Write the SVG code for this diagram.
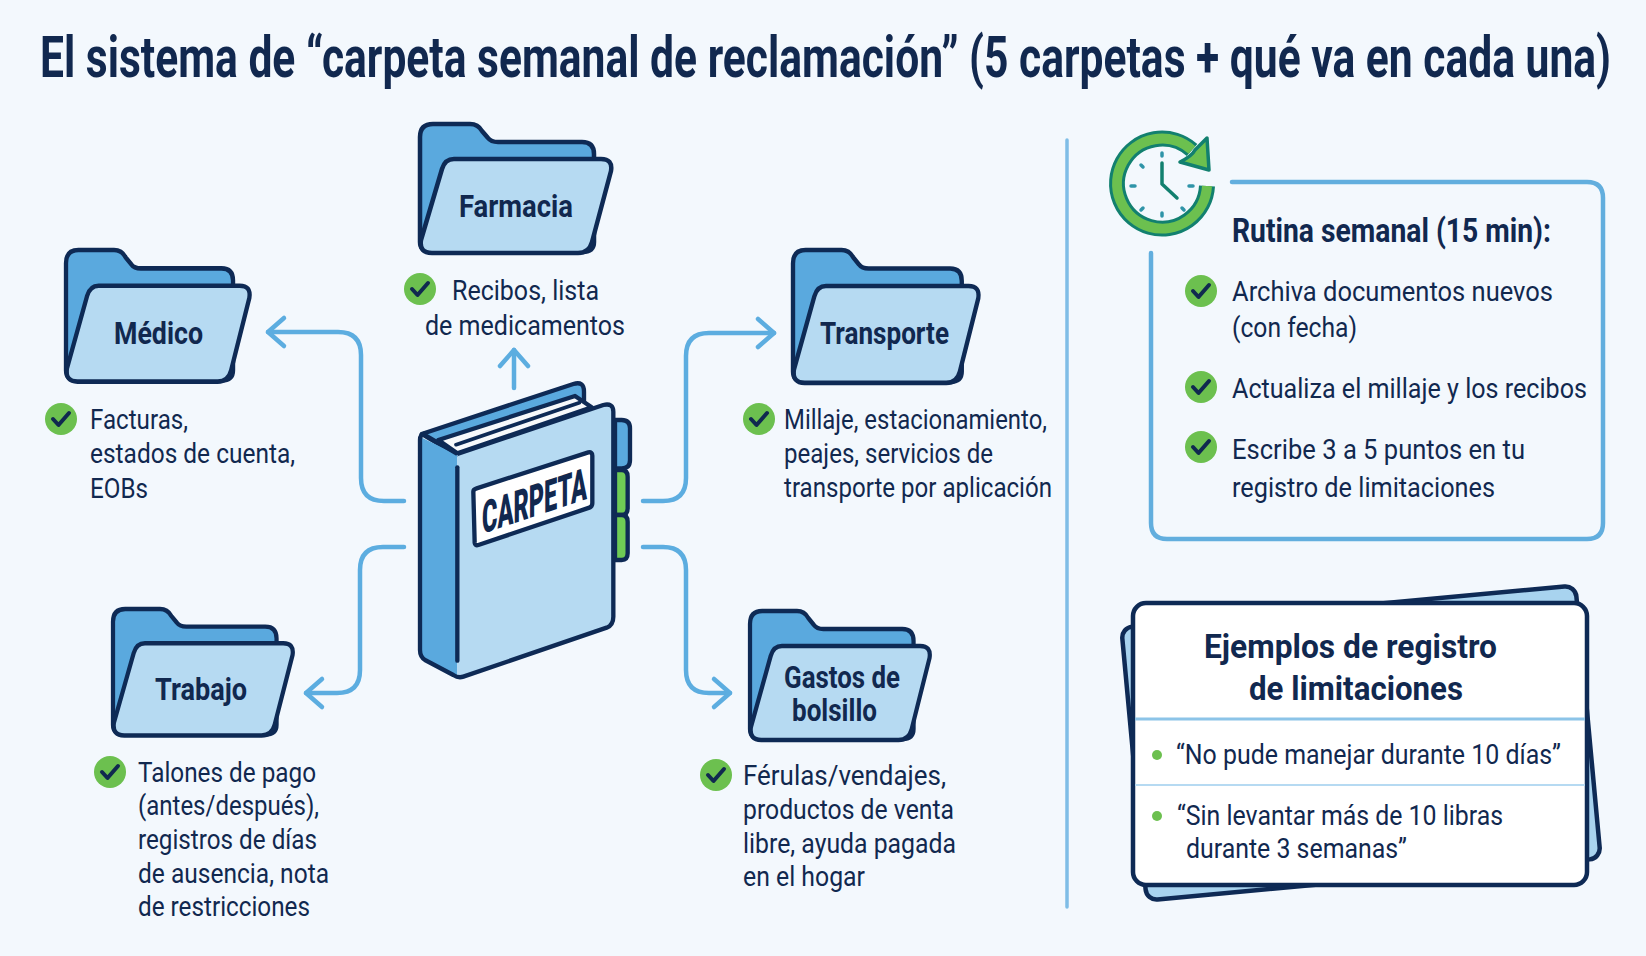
<svg xmlns="http://www.w3.org/2000/svg" width="1646" height="956" viewBox="0 0 1646 956">
<style>
text{font-family:"Roboto","Noto Sans","Liberation Sans",sans-serif;fill:#11284f;font-size:28px}
.f{font-size:32px;font-weight:700}
.g{font-size:27px;font-weight:700}
.h{font-size:33px;font-weight:700}
.t{font-size:38px;font-weight:700}
.c{fill:none;stroke:#5cade0;stroke-width:4.5;stroke-linecap:round;stroke-linejoin:round}
.ol{stroke:#0e2a55;stroke-width:4.5;stroke-linejoin:round;stroke-linecap:round}
</style>
<defs>
<marker id="ah" markerUnits="userSpaceOnUse" markerWidth="40" markerHeight="40" viewBox="-30 -20 40 40" refX="0" refY="0" orient="auto">
<path d="M-16,-14 L0,0 L-16,14" fill="none" stroke="#5cade0" stroke-width="4.5" stroke-linecap="round" stroke-linejoin="round"/>
</marker>
<g id="folder">
<path class="ol" fill="#5aa9de" d="M0,13 Q0,0 13,0 H50 Q58,0 62,7 L68,14 Q71,18 78,18 H162 Q174,18 174,30 V118 Q174,128 162,128 H12 Q0,128 0,118 Z"/>
<path class="ol" fill="#b6daf2" d="M34,35 H181 Q193,35 191,47 L172,118 Q169,129 158,129 H12 Q-1,129 1,116 L22,45 Q25,35 34,35 Z"/>
</g>
<g id="check">
<circle r="16" fill="#6cc04f"/>
<path d="M-8,0 L-2.500,6 L8,-6" fill="none" stroke="#10294f" stroke-width="4" stroke-linecap="round" stroke-linejoin="round"/>
</g>
</defs>
<rect width="1646" height="956" fill="#f3f8fd"/>
<text class="t" transform="translate(40,77) scale(1,1.526)" x="0" y="0" textLength="1571" lengthAdjust="spacingAndGlyphs">El sistema de “carpeta semanal de reclamación” (5 carpetas + qué va en cada una)</text>
<g id="connectors">
<path class="c" marker-end="url(#ah)" d="M404,501 H384 Q361,501 361,478 V355 Q361,332 338,332 H268"/>
<path class="c" marker-end="url(#ah)" d="M514,388 V350"/>
<path class="c" marker-end="url(#ah)" d="M643,501 H663 Q686,501 686,478 V356 Q686,333 709,333 H774"/>
<path class="c" marker-end="url(#ah)" d="M404,547 H383 Q360,547 360,570 V670 Q360,693 337,693 H306"/>
<path class="c" marker-end="url(#ah)" d="M643,547 H663 Q686,547 686,570 V670 Q686,693 709,693 H730"/>
</g>
<g id="carpeta" transform="translate(380,360) scale(.33333)" >
<path fill="#5aa9de" stroke="#0e2a55" stroke-width="13" stroke-linejoin="round" d="M705,180 H725 Q750,180 750,205 V300 Q750,325 725,325 H705 Z"/>
<path fill="#6fcb55" stroke="#0e2a55" stroke-width="13" stroke-linejoin="round" d="M705,330 H725 Q743,330 743,350 V445 Q743,465 725,465 H705 Z"/>
<path fill="#6fcb55" stroke="#0e2a55" stroke-width="13" stroke-linejoin="round" d="M705,465 H725 Q743,465 743,485 V580 Q743,600 725,600 H705 Z"/>
<path fill="#5aa9de" stroke="#0e2a55" stroke-width="13" stroke-linejoin="round" d="M125,222 L580,72 Q612,62 612,95 V160 L230,285 Z"/>
<path fill="#f7f9fb" stroke="#0e2a55" stroke-width="13" stroke-linejoin="round" d="M175,240 L585,108 L635,142 L232,280 Z"/>
<path fill="none" stroke="#0e2a55" stroke-width="11" stroke-linecap="round" d="M228,254 L598,128"/>
<path fill="#5aa9de" d="M120,230 L232,285 V950 L120,885 Z"/>
<path fill="#b6daf2" d="M232,285 L670,135 Q700,128 700,155 V770 Q700,795 680,803 L250,950 L232,950 Z"/>
<path fill="none" stroke="#0e2a55" stroke-width="13" stroke-linejoin="round" d="M232,282 L670,135 Q700,128 700,155 V770 Q700,795 680,803 L250,950 Q235,955 220,945 L135,900 Q120,890 120,870 V240 Q120,222 135,220 M135,225 L232,282"/>
<path fill="none" stroke="#0e2a55" stroke-width="13" stroke-linecap="round" d="M232,322 V902"/>
<path fill="#fff" stroke="#0e2a55" stroke-width="13" stroke-linejoin="round" d="M280,395 Q280,388 290,385 L625,277 Q637,275 637,287 V430 Q637,440 628,443 L295,555 Q285,558 284,548 Z"/>
</g>
<g id="carpeta-label">
<text transform="translate(482,534) skewY(-18.500)" style="font-size:45px;font-weight:900" x="0" y="0" textLength="105" lengthAdjust="spacingAndGlyphs">CARPETA</text>
</g>
<g id="farmacia">
<use href="#folder" transform="translate(420,124)"/>
<text class="f" x="459" y="217" textLength="114" lengthAdjust="spacingAndGlyphs">Farmacia</text>
<use href="#check" x="420" y="289"/>
<text x="452" y="300" textLength="147" lengthAdjust="spacingAndGlyphs">Recibos, lista</text>
<text x="425" y="335" textLength="200" lengthAdjust="spacingAndGlyphs">de medicamentos</text>
</g>
<g id="medico">
<use href="#folder" transform="translate(66,250) scale(.96,1.02)"/>
<text class="f" x="114" y="344" textLength="89" lengthAdjust="spacingAndGlyphs">Médico</text>
<use href="#check" x="61" y="419"/>
<text x="90" y="429" textLength="98" lengthAdjust="spacingAndGlyphs">Facturas,</text>
<text x="90" y="463" textLength="205" lengthAdjust="spacingAndGlyphs">estados de cuenta,</text>
<text x="90" y="498" textLength="58" lengthAdjust="spacingAndGlyphs">EOBs</text>
</g>
<g id="transporte">
<use href="#folder" transform="translate(793,250) scale(.97,1.03)"/>
<text class="f" x="820" y="344" textLength="129" lengthAdjust="spacingAndGlyphs">Transporte</text>
<use href="#check" x="759" y="419"/>
<text x="784" y="429" textLength="263" lengthAdjust="spacingAndGlyphs">Millaje, estacionamiento,</text>
<text x="784" y="463" textLength="209" lengthAdjust="spacingAndGlyphs">peajes, servicios de</text>
<text x="784" y="497" textLength="268" lengthAdjust="spacingAndGlyphs">transporte por aplicación</text>
</g>
<g id="trabajo">
<use href="#folder" transform="translate(113,609) scale(.94,.98)"/>
<text class="f" x="155" y="700" textLength="92" lengthAdjust="spacingAndGlyphs">Trabajo</text>
<use href="#check" x="110" y="772"/>
<text x="138" y="782" textLength="178" lengthAdjust="spacingAndGlyphs">Talones de pago</text>
<text x="138" y="815" textLength="181" lengthAdjust="spacingAndGlyphs">(antes/después),</text>
<text x="138" y="849" textLength="179" lengthAdjust="spacingAndGlyphs">registros de días</text>
<text x="138" y="883" textLength="191" lengthAdjust="spacingAndGlyphs">de ausencia, nota</text>
<text x="138" y="916" textLength="172" lengthAdjust="spacingAndGlyphs">de restricciones</text>
</g>
<g id="gastos">
<use href="#folder" transform="translate(750,611) scale(.94,1)"/>
<text class="g" transform="translate(784,688) scale(1,1.185)" x="0" y="0" textLength="116" lengthAdjust="spacingAndGlyphs">Gastos de</text>
<text class="g" transform="translate(792,721) scale(1,1.185)" x="0" y="0" textLength="85" lengthAdjust="spacingAndGlyphs">bolsillo</text>
<use href="#check" x="716" y="775"/>
<text x="743" y="785" textLength="203" lengthAdjust="spacingAndGlyphs">Férulas/vendajes,</text>
<text x="743" y="819" textLength="211" lengthAdjust="spacingAndGlyphs">productos de venta</text>
<text x="743" y="853" textLength="213" lengthAdjust="spacingAndGlyphs">libre, ayuda pagada</text>
<text x="743" y="886" textLength="122" lengthAdjust="spacingAndGlyphs">en el hogar</text>
</g>
<line x1="1067" y1="140" x2="1067" y2="907" stroke="#7fbde6" stroke-width="3.500" stroke-linecap="round"/>
<g id="rutina">
<path d="M1232,182 H1587 Q1603,182 1603,198 V523 Q1603,539 1587,539 H1167 Q1151,539 1151,523 V253" fill="none" stroke="#62aede" stroke-width="4.500" stroke-linecap="round"/>
<text class="h" x="1232" y="242" textLength="319" lengthAdjust="spacingAndGlyphs">Rutina semanal (15 min):</text>
<use href="#check" x="1201" y="291"/>
<text x="1232" y="301" textLength="321" lengthAdjust="spacingAndGlyphs">Archiva documentos nuevos</text>
<text x="1232" y="337" textLength="125" lengthAdjust="spacingAndGlyphs">(con fecha)</text>
<use href="#check" x="1201" y="387"/>
<text x="1232" y="398" textLength="355" lengthAdjust="spacingAndGlyphs">Actualiza el millaje y los recibos</text>
<use href="#check" x="1201" y="447"/>
<text x="1232" y="459" textLength="293" lengthAdjust="spacingAndGlyphs">Escribe 3 a 5 puntos en tu</text>
<text x="1232" y="497" textLength="263" lengthAdjust="spacingAndGlyphs">registro de limitaciones</text>
</g>
<g id="reloj">
<path d="M1207,186 A45,45 0 1 1 1192,150" fill="none" stroke="#12806f" stroke-width="16" stroke-linecap="butt"/>
<path d="M1207,186 A45,45 0 1 1 1192,150" fill="none" stroke="#6cc04f" stroke-width="10" stroke-linecap="butt"/>
<path d="M1207,138 L1209,170 L1180,162 Q1192,156 1195,150 Z" fill="#6cc04f" stroke="#12806f" stroke-width="3.500" stroke-linejoin="round"/>
<path d="M1162,163 V184 L1177,198" fill="none" stroke="#12806f" stroke-width="3.500" stroke-linecap="round" stroke-linejoin="round"/>
<path d="M1162,153 V156 M1162,213 V216 M1131,186 H1135 M1189,186 H1193 M1141,165 L1143,167 M1141,210 L1143,208 M1182,208 L1184,210" fill="none" stroke="#2f94a8" stroke-width="3.500" stroke-linecap="round"/>
</g>
<g id="ejemplos">
<rect x="1133" y="606" width="456" height="274" rx="11" transform="rotate(-5.300 1361 743)" fill="#a8d3ef" stroke="#0e2a55" stroke-width="4.500"/>
<rect x="1133" y="603" width="454" height="282" rx="13" fill="#fff" stroke="#0e2a55" stroke-width="4.500"/>
<line x1="1135" y1="719" x2="1585" y2="719" stroke="#8cc4e8" stroke-width="3"/>
<line x1="1135" y1="785" x2="1585" y2="785" stroke="#b6daf2" stroke-width="2"/>
<text class="h" x="1204" y="658" textLength="293" lengthAdjust="spacingAndGlyphs">Ejemplos de registro</text>
<text class="h" x="1249" y="700" textLength="214" lengthAdjust="spacingAndGlyphs">de limitaciones</text>
<circle cx="1157" cy="755" r="5" fill="#6cc04f"/>
<text x="1176" y="764" textLength="385" lengthAdjust="spacingAndGlyphs">“No pude manejar durante 10 días”</text>
<circle cx="1157" cy="816" r="5" fill="#6cc04f"/>
<text x="1177" y="825" textLength="326" lengthAdjust="spacingAndGlyphs">“Sin levantar más de 10 libras</text>
<text x="1186" y="858" textLength="221" lengthAdjust="spacingAndGlyphs">durante 3 semanas”</text>
</g>
</svg>
